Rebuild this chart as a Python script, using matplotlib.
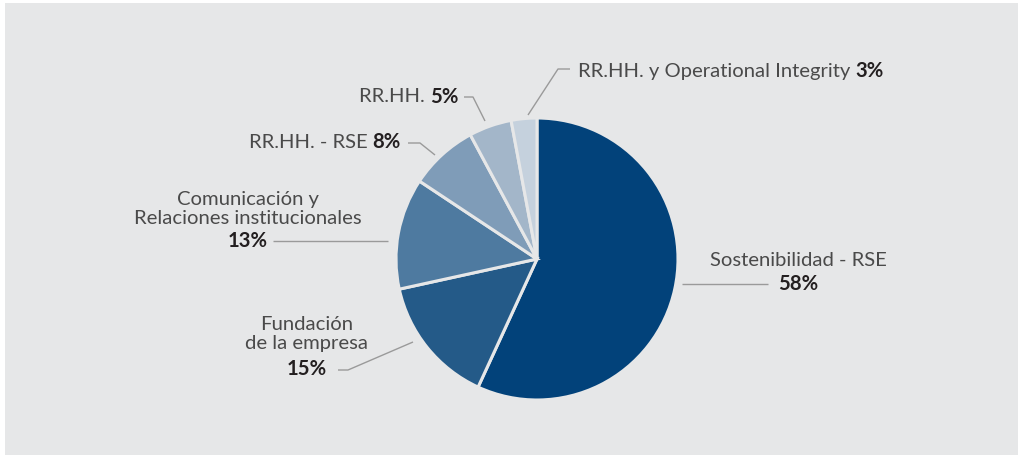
import matplotlib
matplotlib.use("Agg")
import matplotlib.pyplot as plt
from matplotlib.patches import Rectangle

W, H = 1018, 455

# share of budget by area
areas = ["Sostenibilidad - RSE", "Fundación de la empresa",
         "Comunicación y Relaciones institucionales", "RR.HH. - RSE",
         "RR.HH.", "RR.HH. y Operational Integrity"]
shares = [58, 15, 13, 8, 5, 3]
colors = ["#02427a", "#245a88", "#4e7aa0", "#7f9cb8", "#a3b6c9", "#c5d1dd"]

bg = "#e6e7e8"
txt_gray = "#4a4a4a"
txt_dark = "#231f20"
line_gray = "#9a9a9a"

plt.rcParams["font.family"] = ["Lato", "DejaVu Sans"]
FS = 14.6

fig = plt.figure(figsize=(W / 100, H / 100), dpi=100, facecolor="white")
ax = fig.add_axes([0, 0, 1, 1])
ax.add_patch(Rectangle((5, 0), W - 5, H - 3, facecolor=bg, edgecolor="none", zorder=0))

ax.pie(shares, colors=colors, startangle=90, counterclock=False,
       center=(537, H - 259), radius=141,
       wedgeprops=dict(edgecolor=bg, linewidth=2.2))

ax.set_xlim(0, W)
ax.set_ylim(0, H)
ax.set_aspect("equal")
ax.axis("off")

renderer = fig.canvas.get_renderer()


def Y(y):
    return H - y


def pair(x, y, normal, bold, ha):
    # one line with a regular part followed by a bold percentage
    if ha == "right":
        b = ax.text(x, Y(y), bold, ha="right", va="center", fontsize=FS,
                    fontweight="bold", color=txt_dark)
        bb = b.get_window_extent(renderer)
        ax.text(bb.x0, Y(y), normal, ha="right", va="center", fontsize=FS,
                color=txt_gray)
    else:
        n = ax.text(x, Y(y), normal, ha="left", va="center", fontsize=FS,
                    color=txt_gray)
        nb = n.get_window_extent(renderer)
        ax.text(nb.x1, Y(y), bold, ha="left", va="center", fontsize=FS,
                fontweight="bold", color=txt_dark)


def leader(points):
    xs = [p[0] for p in points]
    ys = [Y(p[1]) for p in points]
    ax.plot(xs, ys, color=line_gray, lw=1.0, solid_capstyle="butt")


pair(578, 71, "RR.HH. y Operational Integrity ", "3%", "left")
leader([(528, 115), (558, 69), (570, 69)])

pair(458, 97, "RR.HH. ", "5%", "right")
leader([(464, 97), (473, 97), (485, 121)])

pair(401, 142, "RR.HH. - RSE ", "8%", "right")
leader([(408, 143), (420, 143), (435, 155)])

ax.text(248, Y(200), "Comunicación y", ha="center", va="center", fontsize=FS, color=txt_gray)
ax.text(248, Y(219), "Relaciones institucionales", ha="center", va="center", fontsize=FS, color=txt_gray)
ax.text(248, Y(241), "13%", ha="center", va="center", fontsize=FS, fontweight="bold", color=txt_dark)
leader([(273, 241), (388, 241)])

ax.text(798, Y(261), "Sostenibilidad - RSE", ha="center", va="center", fontsize=FS, color=txt_gray)
ax.text(798, Y(284), "58%", ha="center", va="center", fontsize=FS, fontweight="bold", color=txt_dark)
leader([(682, 284), (768, 284)])

ax.text(307, Y(325), "Fundación", ha="center", va="center", fontsize=FS, color=txt_gray)
ax.text(307, Y(344), "de la empresa", ha="center", va="center", fontsize=FS, color=txt_gray)
ax.text(307, Y(369), "15%", ha="center", va="center", fontsize=FS, fontweight="bold", color=txt_dark)
leader([(338, 370), (348, 370), (413, 342)])

fig.savefig("out.png", dpi=100, facecolor="white")
